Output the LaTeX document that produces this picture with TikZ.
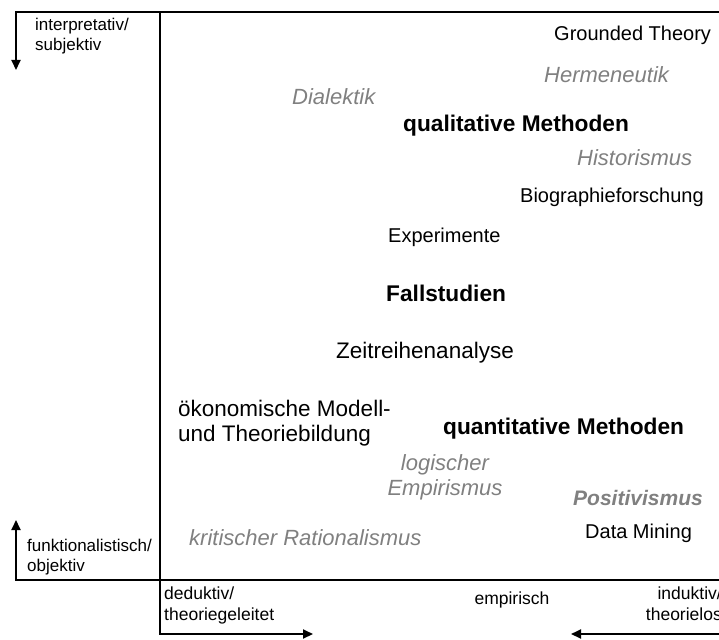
\documentclass[tikz,border=0pt]{standalone}
\usepackage{fontspec}
\setmainfont{Liberation Sans}
\usetikzlibrary{arrows.meta}

\begin{document}
\begin{tikzpicture}[x=1pt, y=-1pt, inner sep=0pt,
  small/.style={font=\fontsize{17}{20}\selectfont, align=left},
  bottom/.style={font=\fontsize{17.5}{21}\selectfont},
  txt/.style={font=\fontsize{20}{25}\selectfont},
  txtb/.style={font=\fontsize{22.5}{25}\selectfont},
  meth/.style={font=\fontsize{22.7}{25}\selectfont\bfseries},
  phil/.style={font=\fontsize{22}{25}\selectfont\itshape, text=black!50},
  axis/.style={line width=2pt},
  arr/.style={axis, -{Triangle[length=10pt,width=9pt]}}]
\useasboundingbox (0,0) rectangle (719,639);
% corners of the frame
\coordinate (tr) at (719,12); \coordinate (tl) at (16,12); \coordinate (tld) at (16,70);
\coordinate (br) at (719,580); \coordinate (bl) at (16,580); \coordinate (blu) at (16,520);
\coordinate (vt) at (160,12); \coordinate (vb) at (160,634); \coordinate (vr) at (313,634);
\coordinate (rr) at (719,634); \coordinate (rl) at (571,634);
\draw[arr] (tr) -- (tl) -- (tld);
\draw[arr] (br) -- (bl) -- (blu);
\draw[arr] (vt) -- (vb) -- (vr);
\draw[arr] (rr) -- (rl);
% axis labels
\node[small, anchor=base west] (interp) at (35,51) {interpretativ/\\subjektiv};
\node[small, anchor=base west] (funk) at (27,571) {funktionalistisch/\\objektiv};
\node[bottom, align=left, anchor=base west] (ded) at (164,620) {deduktiv/\\theoriegeleitet};
\node[bottom, anchor=base] (emp) at (512,604) {empirisch};
\node[bottom, align=right, anchor=base east] (ind) at (722,620) {induktiv/\\theorielos};
% entries
\node[txt, anchor=base west] (gt) at (554,41) {Grounded Theory};
\node[phil, anchor=base west] (herm) at (544,83) {Hermeneutik};
\node[phil, anchor=base west] (dial) at (292,105) {Dialektik};
\node[meth, anchor=base west] (qual) at (403,132) {qualitative Methoden};
\node[phil, anchor=base west] (hist) at (577,165) {Historismus};
\node[txt, anchor=base west] (bio) at (520,202) {Biographieforschung};
\node[txt, anchor=base west] (exp) at (388,242) {Experimente};
\node[meth, anchor=base west] (fall) at (386,301) {Fallstudien};
\node[txtb, anchor=base west] (zeit) at (336,358) {Zeitreihenanalyse};
\node[txtb, align=left, anchor=base west] (oek) at (178,441) {ökonomische Modell-\\und Theoriebildung};
\node[meth, anchor=base west] (quant) at (443,434) {quantitative Methoden};
\node[phil, align=center, anchor=base] (log) at (445,495) {logischer\\Empirismus};
\node[phil, font=\fontsize{21}{25}\selectfont\bfseries\itshape, anchor=base west] (pos) at (573,505) {Positivismus};
\node[txt, anchor=base west] (dm) at (585,538) {Data Mining};
\node[phil, anchor=base west] (krit) at (189,545) {kritischer Rationalismus};
\end{tikzpicture}
\end{document}
